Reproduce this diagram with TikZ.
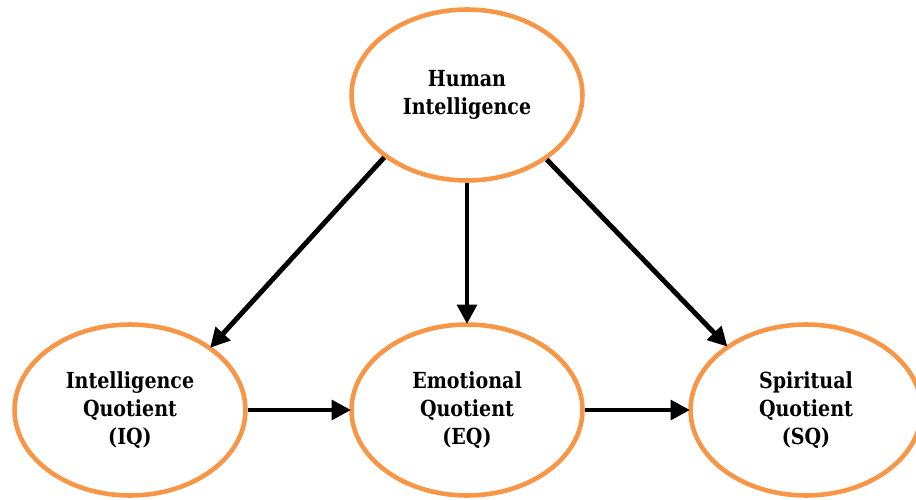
\documentclass[tikz,border=0pt]{standalone}
\usepackage{fontspec}
\setmainfont{DejaVu Serif}[FakeStretch=0.86]
\usepackage{xcolor}
\usepackage{tikz}
\usetikzlibrary{arrows.meta,positioning,shapes.geometric}
\definecolor{ring}{HTML}{F79646}
\tikzset{qbox/.style={ellipse,draw=ring,line width=2.6pt,fill=white,minimum width=4.62cm,minimum height=3.42cm,inner sep=0pt,align=center,font=\bfseries\fontsize{12.6}{15.8}\selectfont},link/.style={-{Triangle[length=11pt,width=11pt]},line width=2.8pt,shorten >=-1pt}}

\begin{document}
\begin{tikzpicture}[x=.02cm,y=-.02cm]
 \useasboundingbox (0,0) rectangle (916,500);
 \node[qbox] (hi) at (467,95) {Human\\Intelligence};
 \node[qbox] (iq) at (130,410) {Intelligence\\Quotient\\(IQ)};
 \node[qbox] (eq) at (467,410) {Emotional\\Quotient\\(EQ)};
 \node[qbox] (sq) at (806,410) {Spiritual\\Quotient\\(SQ)};
 \draw[link] (hi.217) -- (iq.38); \draw[link] (hi.south) -- (eq.north); \draw[link] (hi.321) -- (sq.141);
 \draw[link] (iq.east) -- (eq.west); \draw[link] (eq.east) -- (sq.west);
\end{tikzpicture}
\end{document}
